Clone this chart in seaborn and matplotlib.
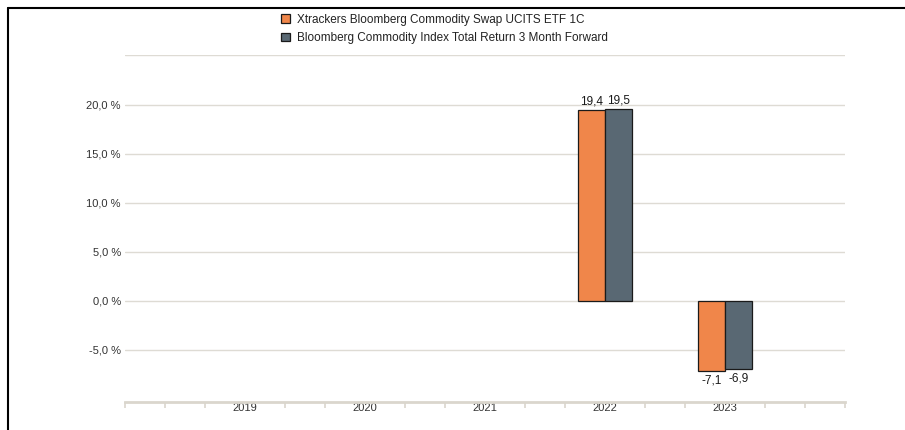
import numpy as np
import pandas as pd
import matplotlib
matplotlib.use("Agg")
import matplotlib.pyplot as plt
from matplotlib.lines import Line2D
from matplotlib.ticker import FuncFormatter
import seaborn as sns

years = ["2019", "2020", "2021", "2022", "2023"]
fund_name = "Xtrackers Bloomberg Commodity Swap UCITS ETF 1C"
index_name = "Bloomberg Commodity Index Total Return 3 Month Forward"
fund_values = [np.nan, np.nan, np.nan, 19.4, -7.1]
index_values = [np.nan, np.nan, np.nan, 19.5, -6.9]
y_ticks = [-5, 0, 5, 10, 15, 20, 25]

df = pd.DataFrame({
    "year": years * 2,
    "value": fund_values + index_values,
    "series": [fund_name] * len(years) + [index_name] * len(years),
})

sns.set_theme(style="white")
plt.rcParams["font.family"] = ["Liberation Sans", "DejaVu Sans"]

fig = plt.figure(figsize=(9.05, 4.30), dpi=100)
ax = fig.add_axes([125 / 905, 28 / 430, 720 / 905, 347 / 430])

palette = {fund_name: "#F0864A", index_name: "#596873"}
sns.barplot(data=df, x="year", y="value", hue="series", order=years,
            hue_order=[fund_name, index_name], palette=palette, width=0.45,
            edgecolor="#1a1a1a", linewidth=0.9, saturation=1, ax=ax,
            legend=True, zorder=3)

ax.set_xlim(-1, 5)
ax.set_ylim(-10.3, 25.05)
ax.set_yticks(y_ticks)
ax.yaxis.set_major_formatter(FuncFormatter(
    lambda v, p: "" if v >= 25 else f"{v:.1f} %".replace(".", ",")))
ax.grid(axis="y", color="#DEDBD4", linewidth=1.0, zorder=0)
ax.set_axisbelow(True)
for s in ["top", "right", "left"]:
    ax.spines[s].set_visible(False)
ax.spines["bottom"].set_color("#DAD6CD")
ax.spines["bottom"].set_linewidth(2.0)
ax.tick_params(axis="y", length=0, pad=3, labelsize=8, labelcolor="#333333")
ax.set_xticks(range(len(years)))
ax.set_xticklabels(years)
ax.tick_params(axis="x", which="major", bottom=True, length=0, pad=1,
               labelsize=8, labelcolor="#333333")
minor = [i / 3 for i in range(-3, 16) if i % 3 != 0]
minor = [-1] + minor + [5]
ax.set_xticks(minor, minor=True)
ax.tick_params(axis="x", which="minor", bottom=True, length=4, width=1.2,
               color="#DAD6CD", direction="out")
ax.set_xlabel("")
ax.set_ylabel("")

for cont in ax.containers:
    for bar in cont:
        h = bar.get_height()
        if np.isnan(h) or h == 0:
            continue
        x = bar.get_x() + bar.get_width() / 2
        if h > 0:
            ax.annotate(f"{h:.1f}".replace(".", ","), (x, h), xytext=(0, 2),
                        textcoords="offset points", ha="center", va="bottom",
                        fontsize=8.5, color="#1a1a1a")
        else:
            ax.annotate(f"{h:.1f}".replace(".", ","), (x, h), xytext=(0, -3),
                        textcoords="offset points", ha="center", va="top",
                        fontsize=8.5, color="#1a1a1a")

handles, labels = ax.get_legend_handles_labels()
ax.get_legend().remove()
fig.legend(handles, labels, loc="upper left",
           bbox_to_anchor=(276 / 905, 1 - 9 / 430), frameon=False,
           fontsize=8.5, handlelength=0.75, handleheight=0.75,
           handletextpad=0.6, labelspacing=0.55, borderaxespad=0,
           labelcolor="#222222")

fig.add_artist(Line2D([8 / 905, 1], [1 - 8 / 430, 1 - 8 / 430],
                      color="black", linewidth=1.5, transform=fig.transFigure))
fig.add_artist(Line2D([8 / 905, 8 / 905], [0, 1 - 8 / 430],
                      color="black", linewidth=1.5, transform=fig.transFigure))

fig.savefig("out.png", dpi=100)
